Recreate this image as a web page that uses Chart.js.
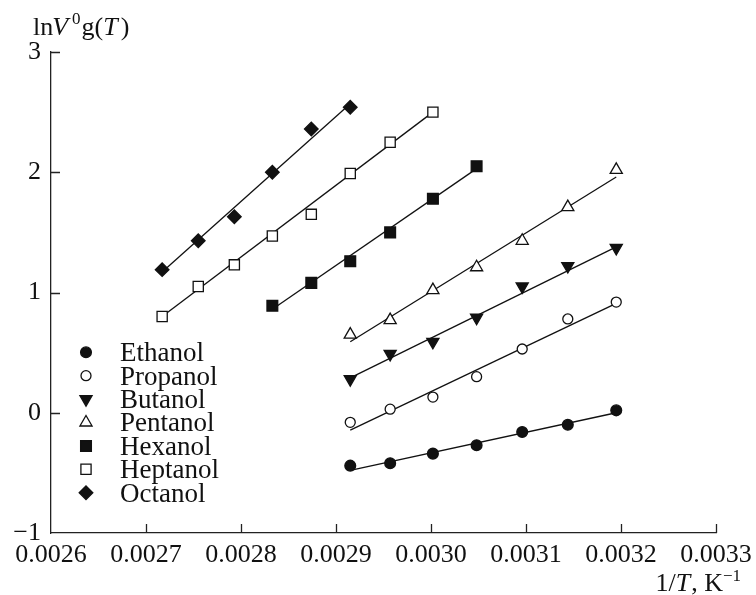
<!DOCTYPE html>
<html><head><meta charset="utf-8">
<script src="https://cdn.jsdelivr.net/npm/chart.js@4.4.1/dist/chart.umd.min.js"></script>
<style>html,body{margin:0;padding:0;background:#fff}</style>
</head><body>
<canvas id="c" width="756" height="595"></canvas>
<script>
// ---- data ----
const seriesNames = ['Ethanol', 'Propanol', 'Butanol', 'Pentanol', 'Hexanol', 'Heptanol', 'Octanol'];
const xLight = [0.002915, 0.002957, 0.003002, 0.003048, 0.003096, 0.003144, 0.003195];
const xHexanol = [0.002833, 0.002874, 0.002915, 0.002957, 0.003002, 0.003048];
const xHeptanol = [0.002717, 0.002755, 0.002793, 0.002833, 0.002874, 0.002915, 0.002957, 0.003002];
const xOctanol = [0.002717, 0.002755, 0.002793, 0.002833, 0.002874, 0.002915];
const yEthanol = [-0.44, -0.42, -0.34, -0.27, -0.16, -0.10, 0.02];
const yPropanol = [-0.08, 0.03, 0.13, 0.30, 0.53, 0.78, 0.92];
const yButanol = [0.28, 0.49, 0.59, 0.79, 1.05, 1.22, 1.37];
const yPentanol = [0.65, 0.77, 1.02, 1.21, 1.43, 1.71, 2.02];
const yHexanol = [0.89, 1.08, 1.26, 1.50, 1.78, 2.05];
const yHeptanol = [0.80, 1.05, 1.23, 1.47, 1.65, 1.99, 2.25, 2.50];
const yOctanol = [1.19, 1.43, 1.63, 2.00, 2.36, 2.54];
// fitted straight lines: value at first and last x of each series
const fitStart = [-0.48, -0.145, 0.29, 0.59, 0.86, 0.80, 1.17];
const fitEnd = [0.00, 0.91, 1.38, 1.96, 2.03, 2.50, 2.57];
const xTickValues = [0.0026, 0.0027, 0.0028, 0.0029, 0.0030, 0.0031, 0.0032, 0.0033];
const xTickLabels = ['0.0026', '0.0027', '0.0028', '0.0029', '0.0030', '0.0031', '0.0032', '0.0033'];
const yTickValues = [-1, 0, 1, 2, 3];
const yTickLabels = ['\u22121', '0', '1', '2', '3'];

const xs = [xLight, xLight, xLight, xLight, xHexanol, xHeptanol, xOctanol];
const ys = [yEthanol, yPropanol, yButanol, yPentanol, yHexanol, yHeptanol, yOctanol];

// ---- styles ----
const FONT = '"Liberation Serif", "Times New Roman", serif';
const markerStyles = [
  {pointStyle: 'circle', radius: 5.4, fill: '#111', rot: 0},
  {pointStyle: 'circle', radius: 5.0, fill: '#fff', rot: 0},
  {pointStyle: 'triangle', radius: 7.0, fill: '#111', rot: 180},
  {pointStyle: 'triangle', radius: 7.0, fill: '#fff', rot: 0},
  {pointStyle: 'rect', radius: 7.6, fill: '#111', rot: 0},
  {pointStyle: 'rect', radius: 7.2, fill: '#fff', rot: 0},
  {pointStyle: 'rectRot', radius: 6.8, fill: '#111', rot: 0}
];

const datasets = [];
seriesNames.forEach((name, i) => {
  const st = markerStyles[i];
  datasets.push({
    label: name,
    data: xs[i].map((x, j) => ({x: x, y: ys[i][j]})),
    showLine: false,
    pointStyle: st.pointStyle,
    pointRadius: st.radius,
    pointRotation: st.rot,
    pointBackgroundColor: st.fill,
    pointBorderColor: '#111',
    pointBorderWidth: 1.3,
    order: 0
  });
  const xsi = xs[i];
  datasets.push({
    label: name + ' fit',
    data: [{x: xsi[0], y: fitStart[i]}, {x: xsi[xsi.length - 1], y: fitEnd[i]}],
    showLine: true,
    borderColor: '#111',
    borderWidth: 1.3,
    pointRadius: 0,
    fill: false,
    order: 1
  });
});

function drawMarker(ctx, st, x, y) {
  if (Chart.helpers && Chart.helpers.drawPoint) {
    ctx.save();
    ctx.fillStyle = st.fill;
    ctx.strokeStyle = '#111';
    ctx.lineWidth = 1.3;
    Chart.helpers.drawPoint(ctx, {pointStyle: st.pointStyle, radius: st.radius, rotation: st.rot, borderWidth: 1.3}, x, y);
    ctx.restore();
  }
}

const bgPlugin = {
  id: 'bg',
  beforeDraw(chart) {
    const ctx = chart.ctx;
    ctx.save();
    ctx.fillStyle = '#fff';
    ctx.fillRect(0, 0, chart.width, chart.height);
    ctx.restore();
  }
};

const decoPlugin = {
  id: 'deco',
  afterDraw(chart) {
    const ctx = chart.ctx;
    const xS = chart.scales.x, yS = chart.scales.y;
    const area = chart.chartArea;
    ctx.save();
    // inward ticks
    ctx.strokeStyle = '#222';
    ctx.lineWidth = 1.3;
    ctx.beginPath();
    xTickValues.forEach(v => {
      const px = Math.round(xS.getPixelForValue(v)) + 0.5;
      if (px > area.left + 2) {
        ctx.moveTo(px, area.bottom);
        ctx.lineTo(px, area.bottom - 9);
      }
    });
    yTickValues.forEach(v => {
      const py = Math.round(yS.getPixelForValue(v)) + 0.5;
      if (py < area.bottom - 2) {
        ctx.moveTo(area.left, py);
        ctx.lineTo(area.left + 9, py);
      }
    });
    ctx.stroke();

    // legend
    ctx.fillStyle = '#111';
    ctx.textBaseline = 'alphabetic';
    ctx.textAlign = 'left';
    seriesNames.forEach((name, i) => {
      const yc = 352.3 + 23.4 * i;
      drawMarker(ctx, markerStyles[i], 86, yc);
      ctx.fillStyle = '#111';
      ctx.font = '27px ' + FONT;
      ctx.fillText(name, 120, yc + 8.8);
    });

    // y axis title: lnV^0 g(T)
    let x = 33, base = 35;
    const up = '26px ' + FONT, it = 'italic 26px ' + FONT, sup = '17px ' + FONT;
    function put(txt, font, dy, extra) {
      ctx.font = font;
      ctx.fillText(txt, x, base + (dy || 0));
      x += ctx.measureText(txt).width + (extra || 0);
    }
    put('ln', up, 0, -1);
    put('V', it, 0, 4);
    put('0', sup, -11, 1);
    put('g(', up);
    put('T', it, 0, 3);
    put(')', up);

    // x axis title: 1/T, K^-1 (right aligned)
    ctx.font = up; const w1 = ctx.measureText('1/').width;
    ctx.font = it; const w2 = ctx.measureText('T').width + 1;
    ctx.font = up; const w3 = ctx.measureText(', K').width;
    ctx.font = sup; const w4 = ctx.measureText('\u22121').width;
    x = 741 - (w1 + w2 + w3 + w4);
    base = 591;
    put('1/', up);
    put('T', it, 0, 1);
    put(', K', up);
    put('\u22121', sup, -10);
    ctx.restore();
  }
};

new Chart(document.getElementById('c'), {
  type: 'scatter',
  data: {datasets: datasets},
  options: {
    responsive: false,
    devicePixelRatio: 1,
    animation: false,
    layout: {padding: {left: 0, right: 40, top: 52, bottom: 0}},
    plugins: {legend: {display: false}, tooltip: {enabled: false}, title: {display: false}},
    scales: {
      x: {
        type: 'linear',
        min: 0.0026, max: 0.0033,
        afterBuildTicks: s => { s.ticks = xTickValues.map(v => ({value: v})); },
        afterFit: s => { s.height = 62; s.paddingLeft = 0; s.paddingRight = 0; },
        grid: {display: false, drawTicks: false},
        border: {display: true, color: '#222', width: 1.3},
        ticks: {
          color: '#111', padding: 7, maxRotation: 0, autoSkip: false,
          font: {family: FONT, size: 26},
          callback: (v, i) => xTickLabels[i]
        }
      },
      y: {
        type: 'linear',
        min: -1, max: 3,
        afterBuildTicks: s => { s.ticks = yTickValues.map(v => ({value: v})); },
        afterFit: s => { s.width = 51; s.paddingTop = 0; s.paddingBottom = 0; },
        grid: {display: false, drawTicks: false},
        border: {display: true, color: '#222', width: 1.3},
        ticks: {
          color: '#111', padding: 10, autoSkip: false,
          font: {family: FONT, size: 26},
          callback: (v, i) => yTickLabels[i]
        }
      }
    }
  },
  plugins: [bgPlugin, decoPlugin]
});
</script>
</body></html>
